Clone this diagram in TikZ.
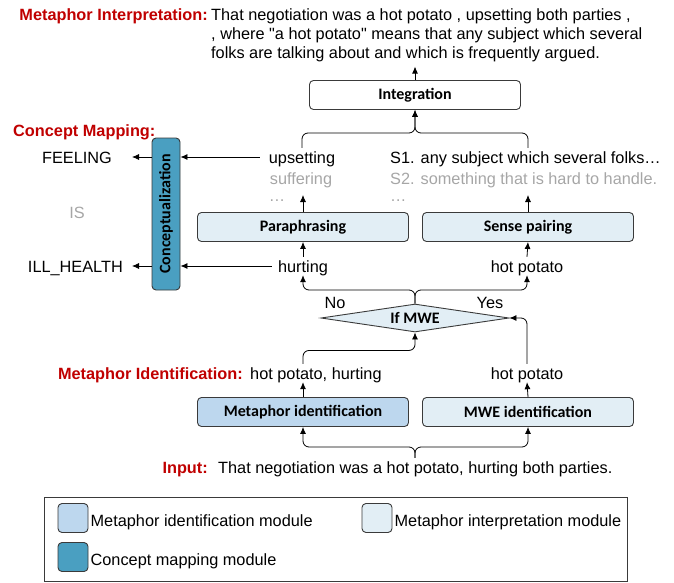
\documentclass[tikz,border=0pt]{standalone}
\usepackage{fontspec}
\usepackage{graphicx}
\setmainfont{Liberation Sans}
\newfontfamily\boxfont{Carlito}
\usetikzlibrary{arrows.meta, shapes.geometric}

\definecolor{idblue}{HTML}{BDD7EE}
\definecolor{intblue}{HTML}{E2EEF5}
\definecolor{mapteal}{HTML}{4A9FC1}
\definecolor{hlred}{HTML}{C00000}
\definecolor{softgray}{HTML}{A6A6A6}
\definecolor{edgegray}{HTML}{3A3A3A}

\newcommand{\txtsize}{\fontsize{16.3}{19}\selectfont}

\tikzset{
  word/.style={inner xsep=2pt, inner ysep=3pt, text height=12pt, text depth=0pt, font=\txtsize},
  tag/.style={word, text=hlred, font=\txtsize\bfseries},
  faded/.style={word, text=softgray},
  module/.style={draw=edgegray, line width=0.9pt, rounded corners=4pt, minimum width=211pt,
    minimum height=29pt, font=\boxfont\fontsize{16}{19}\selectfont\bfseries},
  arr/.style={-{Latex[length=7pt,width=6pt]}, line width=0.8pt},
}

\begin{document}
\begin{tikzpicture}[x=1pt, y=-1pt]
  \useasboundingbox (0,0) rectangle (674,583);
  % interpretation output
  \node[tag, anchor=east] (interlbl) at (210,15) {Metaphor Interpretation:};
  \node[font=\txtsize, align=left, inner sep=0pt, anchor=base west] (interp) at (211,59)
    {That negotiation was a hot potato , upsetting both parties ,\\
     , where \textquotedbl a hot potato\textquotedbl{} means that any subject which several\\
     folks are talking about and which is frequently argued.};
  \node[module] (integ) at (415,95) {Integration};
  \draw[arr, shorten >=4pt] (integ.north) -- (integ.north |- interp.south);

  % concept mapping
  \node[tag, anchor=west] (maplbl) at (11,130) {Concept Mapping:};
  \node[module, fill=mapteal, minimum width=28pt, minimum height=152pt] (concept) at (166,214)
    {\rotatebox{90}{Conceptualization}};
  \node[word, anchor=east] (feel) at (114,157) {FEELING};
  \node[faded] (isword) at (77,212) {IS};
  \node[word, anchor=east] (ill) at (125,266) {ILL\_HEALTH};
  \coordinate (labend) at ([xshift=7pt]ill.east);
  \draw[arr] (concept.west |- feel) -- (labend |- feel);
  \draw[arr] (concept.west |- ill) -- (labend);

  % paraphrasing and sense pairing
  \node[word] (up) at (302,157) {upsetting};
  \node[faded] (suff) at (301,178) {suffering};
  \node[faded] (dotL) at (277,195) {…};
  \node[word, anchor=west] (s1) at (388,157) {S1. any subject which several folks…};
  \node[faded, anchor=west] (s2) at (388,178) {S2. something that is hard to handle.};
  \node[faded, anchor=west] (dotR) at (388,195) {…};
  \node[module, fill=intblue] (para) at (303,227) {Paraphrasing};
  \node[module, fill=intblue] (sense) at (528,227) {Sense pairing};
  \node[word] (hurt) at (303,266) {hurting};
  \node[word] (hotA) at (527,266) {hot potato};
  \draw[arr, shorten <=7pt] (up.west) -- (up.west -| concept.east);
  \draw[arr, shorten <=4pt] (hurt.west) -- (hurt.west -| concept.east);
  \draw[arr] (hurt.north) -- (para.south);
  \draw[arr] (hotA.north) -- (sense.south);
  \draw[arr] (para.north) -- (para.north |- dotL);
  \draw[arr] (sense.north) -- (sense.north |- dotR);
  % brace into integration
  \coordinate (topbrace) at (415,133);
  \draw[arr, rounded corners=6pt] (up.north) |- (topbrace) -- (integ.south);
  \draw[arr, rounded corners=6pt] (sense.north |- s1.north) |- (topbrace) -- (integ.south);

  % MWE decision
  \node[diamond, draw=edgegray, fill=intblue, line width=0.9pt, aspect=6.7, inner sep=0pt,
    minimum width=188pt, minimum height=28pt, font=\boxfont\fontsize{16}{19}\selectfont\bfseries]
    (mwe) at (415,318) {If MWE};
  \node[word] (no) at (335,302) {No};
  \node[word] (yes) at (490,302) {Yes};
  \coordinate (midbrace) at (415,290);
  \draw[arr, rounded corners=6pt] (mwe.north) -- (midbrace) -| (hurt.south);
  \draw[arr, rounded corners=6pt] (mwe.north) -- (midbrace) -| (hotA.south);

  % identification
  \node[tag, anchor=east] (idlbl) at (245,373) {Metaphor Identification:};
  \node[word, anchor=west] (hph) at (248,373) {hot potato, hurting};
  \node[word] (hotB) at (527,373) {hot potato};
  \node[module, fill=idblue] (mibox) at (303,412) {Metaphor identification};
  \node[module, fill=intblue] (mwebox) at (528,412) {MWE identification};
  \draw[arr] (mibox.north) -- (mibox.north |- hph.south);
  \draw[arr] (mwebox.north) -- (hotB.south);
  \draw[arr, rounded corners=6pt] (mibox.north |- hph.north) |- ([yshift=-18pt]mwe.south) -- (mwe.south);
  \draw[arr, rounded corners=6pt] (hotB.north) |- (mwe.east);

  % input sentence
  \node[tag, anchor=east] (inlbl) at (210,467) {Input:};
  \node[word, anchor=west] (intxt) at (216,467) {That negotiation was a hot potato, hurting both parties.};
  \coordinate (inbrace) at (415,447);
  \draw[arr, rounded corners=6pt] (inbrace |- intxt.north) -- (inbrace) -| (mibox.south);
  \draw[arr, rounded corners=6pt] (inbrace |- intxt.north) -- (inbrace) -| (mwebox.south);

  % legend
  \draw[edgegray, line width=0.9pt] (44,497) rectangle (627,581);
  \node[draw=edgegray, fill=idblue, rounded corners=4pt, line width=0.9pt, minimum width=30pt,
    minimum height=29pt] (keyid) at (73,518) {};
  \node[word, anchor=west] (keyidtxt) at (keyid.east |- 0,520) {Metaphor identification module};
  \node[draw=edgegray, fill=intblue, rounded corners=4pt, line width=0.9pt, minimum width=30pt,
    minimum height=29pt] (keyint) at (377,518) {};
  \node[word, anchor=west] (keyinttxt) at (keyint.east |- 0,520) {Metaphor interpretation module};
  \node[draw=edgegray, fill=mapteal, rounded corners=4pt, line width=0.9pt, minimum width=30pt,
    minimum height=29pt] (keymap) at (73,557) {};
  \node[word, anchor=west] (keymaptxt) at (keymap.east |- 0,559) {Concept mapping module};
\end{tikzpicture}
\end{document}
